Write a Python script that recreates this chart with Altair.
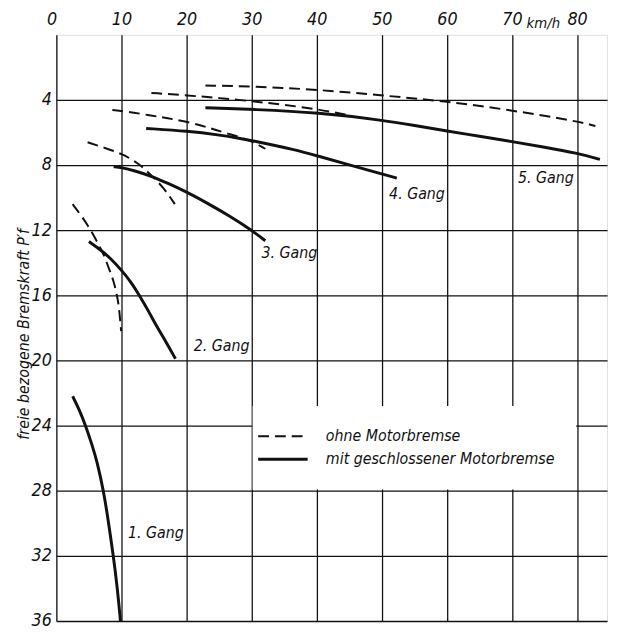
import altair as alt
import pandas as pd

FONT = "DejaVu Sans Condensed, Liberation Sans Narrow, Roboto, sans-serif"

# ---- curves: x = Geschwindigkeit (km/h), y = freie bezogene Bremskraft ----
# ohne Motorbremse (dashed)
d1_x = [2.5, 4.0, 5.3, 6.5, 7.3, 8.2, 8.8, 9.3, 9.6, 9.95]
d1_y = [10.4, 11.2, 12.0, 12.9, 13.5, 14.5, 15.1, 16.0, 16.6, 18.2]
d2_x = [4.8, 7.5, 10.0, 12.5, 14.4, 16.5, 18.2]
d2_y = [6.6, 6.95, 7.3, 7.85, 8.55, 9.4, 10.4]
d3_x = [8.6, 11.0, 14.4, 17.0, 20.3, 23.5, 26.2, 29.7, 32.1]
d3_y = [4.62, 4.72, 4.95, 5.12, 5.35, 5.72, 6.06, 6.46, 7.0]
d4_x = [14.6, 20.3, 25.0, 30.3, 35.0, 40.3, 44.9]
d4_y = [3.57, 3.73, 3.88, 4.09, 4.3, 4.58, 4.94]
d5_x = [22.9, 30.3, 40.3, 50.2, 60.0, 70.0, 80.0, 82.8]
d5_y = [3.12, 3.17, 3.37, 3.73, 4.09, 4.64, 5.31, 5.6]

# mit geschlossener Motorbremse (solid)
s1_x = [2.5, 3.5, 4.5, 5.5, 6.25, 7.25, 8.0, 8.75, 9.35, 9.85]
s1_y = [22.2, 23.0, 24.0, 25.2, 26.2, 28.0, 29.9, 32.0, 33.9, 36.0]
s2_x = [5.0, 6.8, 8.5, 10.1, 11.5, 12.9, 14.2, 15.4, 16.9, 18.3]
s2_y = [12.7, 13.2, 13.8, 14.5, 15.2, 16.1, 17.0, 17.9, 18.9, 19.9]
s3_x = [8.8, 10.0, 12.0, 14.4, 17.0, 20.0, 23.0, 26.5, 30.0, 32.1]
s3_y = [8.1, 8.15, 8.35, 8.65, 9.1, 9.65, 10.3, 11.1, 12.0, 12.65]
s4_x = [13.8, 20.3, 25.0, 28.2, 30.3, 36.8, 40.0, 45.0, 50.0, 52.3]
s4_y = [5.75, 5.92, 6.15, 6.36, 6.52, 7.07, 7.43, 7.99, 8.55, 8.8]
s5_x = [22.9, 30.3, 40.3, 50.2, 55.0, 60.0, 65.0, 70.0, 75.0, 80.0, 83.5]
s5_y = [4.48, 4.58, 4.78, 5.25, 5.57, 5.91, 6.23, 6.56, 6.9, 7.27, 7.65]

# gear labels
gear_labels = ["1. Gang", "2. Gang", "3. Gang", "4. Gang", "5. Gang"]
gear_label_x = [15.3, 25.4, 35.8, 55.4, 75.2]
gear_label_y = [30.6, 19.1, 13.4, 9.8, 8.8]

# legend
legend_names = ["ohne Motorbremse", "mit geschlossener Motorbremse"]
legend_y = [24.65, 26.07]
legend_line_x = [31.0, 38.6]
legend_text_x = 41.4
legend_box_x = [30.15, 79.85]
legend_box_y = [22.8, 27.92]

# axes
x_ticks = [0, 10, 20, 30, 40, 50, 60, 70, 80]
y_ticks = [4, 8, 12, 16, 20, 24, 28, 32, 36]
x_max = 84.6
y_max = 36
unit_label = "km/h"
unit_label_x = 74.8

rows = []
for name, kind, xs, ys in [
    ("d1", "ohne", d1_x, d1_y), ("d2", "ohne", d2_x, d2_y), ("d3", "ohne", d3_x, d3_y),
    ("d4", "ohne", d4_x, d4_y), ("d5", "ohne", d5_x, d5_y),
    ("s1", "mit", s1_x, s1_y), ("s2", "mit", s2_x, s2_y), ("s3", "mit", s3_x, s3_y),
    ("s4", "mit", s4_x, s4_y), ("s5", "mit", s5_x, s5_y),
]:
    for xv, yv in zip(xs, ys):
        rows.append({"curve": name, "kind": kind, "v": xv, "p": yv})
df = pd.DataFrame(rows)

xs = alt.Scale(domain=[0, x_max], nice=False, zero=False)
ys = alt.Scale(domain=[0, y_max], nice=False, zero=False, reverse=True)

x_axis = alt.Axis(
    orient="top", values=x_ticks, grid=True, gridColor="#111", gridWidth=1.3,
    domain=False, ticks=False, labelFont=FONT, labelFontStyle="italic",
    labelFontSize=18, labelPadding=6, labelColor="#111", title=None,
    labelOffset=alt.ExprRef("datum.value == 0 ? -10 : 0"),
)
y_axis = alt.Axis(
    orient="left", values=y_ticks, grid=True, gridColor="#111", gridWidth=1.3,
    domain=False, ticks=False, labelFont=FONT, labelFontStyle="italic",
    labelFontSize=18, labelPadding=5, labelColor="#111",
    title="freie bezogene Bremskraft P′f", titleFont=FONT, titleFontStyle="italic",
    titleFontWeight="normal", titleFontSize=16, titleColor="#111",
    titleX=-33, titleY=303, titleAlign="center", titleBaseline="middle", titleAngle=270,
)

base = alt.Chart(df)

dashed = base.transform_filter("datum.kind == 'ohne'").mark_line(
    color="#111", strokeWidth=2, strokeDash=[11, 6], interpolate="basis"
).encode(
    x=alt.X("v:Q", scale=xs, axis=x_axis),
    y=alt.Y("p:Q", scale=ys, axis=y_axis),
    detail="curve:N",
)
solid = base.transform_filter("datum.kind == 'mit'").mark_line(
    color="#111", strokeWidth=3, interpolate="basis"
).encode(
    x=alt.X("v:Q", scale=xs),
    y=alt.Y("p:Q", scale=ys),
    detail="curve:N",
)

lab_df = pd.DataFrame({"t": gear_labels, "x": gear_label_x, "y": gear_label_y})
labels = alt.Chart(lab_df).mark_text(
    font=FONT, fontStyle="italic", fontSize=16, color="#111", align="center", baseline="middle"
).encode(x=alt.X("x:Q", scale=xs), y=alt.Y("y:Q", scale=ys), text="t:N")

box_df = pd.DataFrame({"x": [legend_box_x[0]], "x2": [legend_box_x[1]],
                       "y": [legend_box_y[0]], "y2": [legend_box_y[1]]})
box = alt.Chart(box_df).mark_rect(color="white").encode(
    x=alt.X("x:Q", scale=xs), x2="x2:Q", y=alt.Y("y:Q", scale=ys), y2="y2:Q"
)

leg_df = pd.DataFrame({
    "name": legend_names, "y": legend_y,
    "x1": [legend_line_x[0]] * 2, "x2": [legend_line_x[1]] * 2,
    "tx": [legend_text_x] * 2, "kind": ["ohne", "mit"],
})
leg_dash = alt.Chart(leg_df).transform_filter("datum.kind == 'ohne'").mark_rule(
    color="#111", strokeWidth=2, strokeDash=[11, 6]
).encode(x=alt.X("x1:Q", scale=xs), x2="x2:Q", y=alt.Y("y:Q", scale=ys))
leg_solid = alt.Chart(leg_df).transform_filter("datum.kind == 'mit'").mark_rule(
    color="#111", strokeWidth=3
).encode(x=alt.X("x1:Q", scale=xs), x2="x2:Q", y=alt.Y("y:Q", scale=ys))
leg_text = alt.Chart(leg_df).mark_text(
    font=FONT, fontStyle="italic", fontSize=16, color="#111", align="left", baseline="middle"
).encode(x=alt.X("tx:Q", scale=xs), y=alt.Y("y:Q", scale=ys), text="name:N")

unit_df = pd.DataFrame({"t": [unit_label], "x": [unit_label_x]})
unit = alt.Chart(unit_df).mark_text(
    font=FONT, fontStyle="italic", fontSize=15, color="#111", align="center", baseline="alphabetic"
).encode(x=alt.X("x:Q", scale=xs), y=alt.value(-7), text="t:N")

chart = alt.layer(
    dashed, solid, box, leg_dash, leg_solid, leg_text, labels, unit
).properties(
    width=558, height=594,
    autosize=alt.AutoSizeParams(type="none"),
    padding={"left": 49, "top": 23, "right": 5, "bottom": 5},
).configure_view(stroke="#111", strokeWidth=2).configure(background="white")

chart.save("out.html", embed_options={"renderer": "svg", "actions": False})
